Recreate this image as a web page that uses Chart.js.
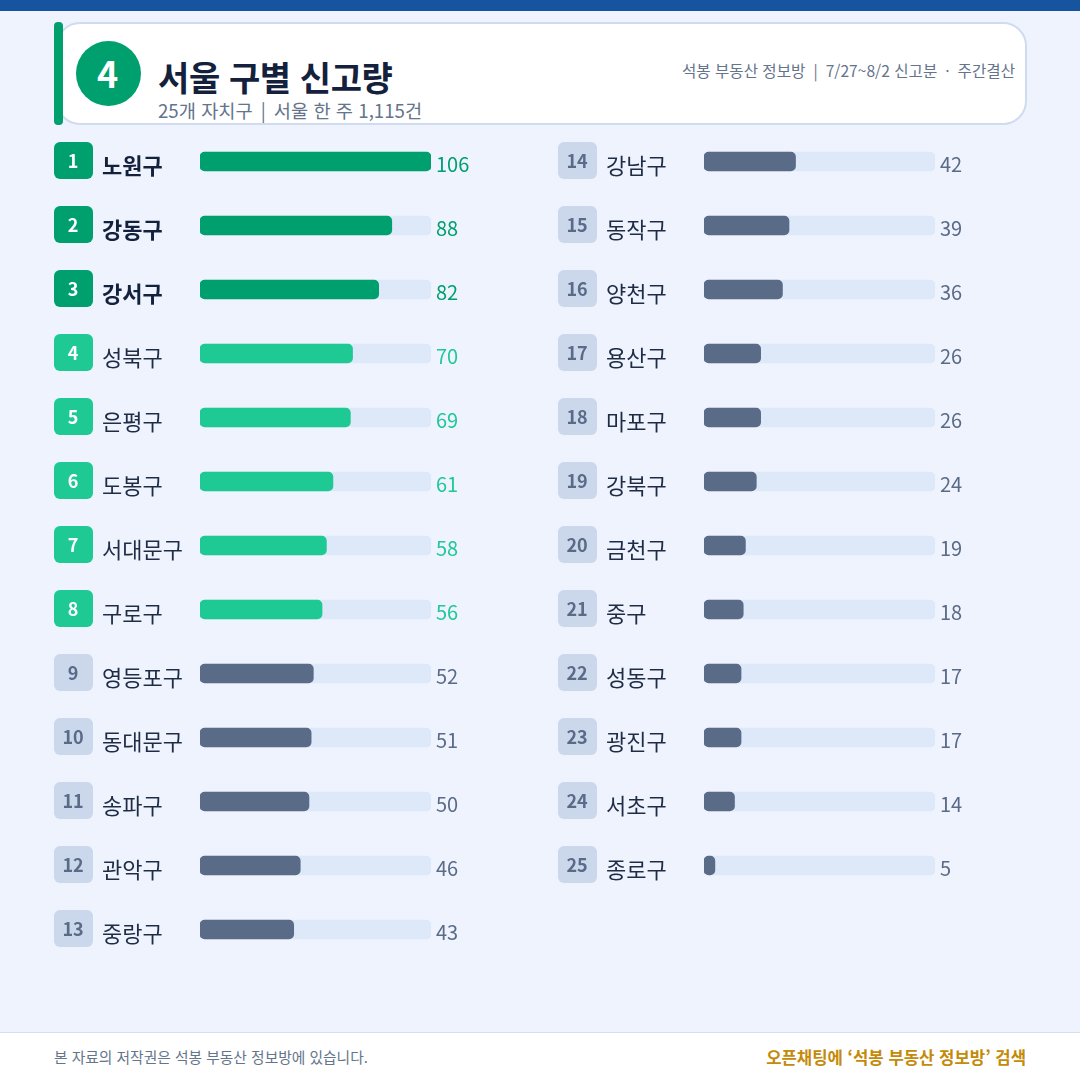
<!DOCTYPE html>
<html lang="ko">
<head>
<meta charset="utf-8">
<title>서울 구별 신고량</title>
<script src="https://cdn.jsdelivr.net/npm/chart.js@4"></script>
<style>
    html, body { margin: 0; padding: 0; }
    body { width: 1080px; height: 1080px; background: #eef3fe; position: relative; overflow: hidden; font-family: "Noto Sans CJK KR", "Noto Sans", sans-serif; }
    .abs { position: absolute; white-space: nowrap; line-height: 1; }
    .band { left: 0; top: 0; width: 1080px; height: 11px; background: #17549f; }
    .card { left: 56px; top: 22px; width: 967px; height: 99px; background: #fff; border: 2px solid #cfdbef; border-radius: 24px; }
    .strip { left: 54px; top: 22px; width: 9px; height: 103px; background: #00a06e; border-radius: 4px; }
    .circle { left: 76px; top: 41px; width: 63px; padding-right: 2px; height: 65px; line-height: 63px; border-radius: 50%; background: #00a06e; color: #fff; font-size: 36px; font-weight: 700; text-align: center; }
    .title { left: 158px; top: 60px; font-size: 34px; font-weight: 700; letter-spacing: -0.4px; color: #14213d; }
    .sub { left: 158px; top: 101px; font-size: 18.7px; color: #64748b; }
    .sub span { margin: 0 8px; }
    .note { right: 65px; top: 63px; font-size: 15.6px; color: #64748b; }
    .note span { margin: 0 8px; }
    .footer { left: 0; top: 1032px; width: 1080px; height: 48px; background: #fff; border-top: 1px solid #d5e0ee; box-sizing: border-box; }
    .copy { left: 54px; top: 1050px; font-size: 14.75px; color: #64748b; }
    .cta { right: 54px; top: 1049px; font-size: 16.7px; font-weight: 700; color: #c48a0a; }
    canvas { position: absolute; top: 129px; }
</style>
</head>
<body>
<div class="abs band"></div>
<div class="abs card"></div>
<div class="abs strip"></div>
<div class="abs circle">4</div>
<div class="abs title">서울 구별 신고량</div>
<div class="abs sub">25개 자치구<span>|</span>서울 한 주 1,115건</div>
<div class="abs note">석봉 부동산 정보방<span>|</span>7/27~8/2 신고분<span>·</span>주간결산</div>
<canvas id="leftChart" width="480" height="833" style="left:54px"></canvas>
<canvas id="rightChart" width="480" height="769" style="left:558px"></canvas>
<div class="abs footer"></div>
<div class="abs copy">본 자료의 저작권은 석봉 부동산 정보방에 있습니다.</div>
<div class="abs cta">오픈채팅에 ‘석봉 부동산 정보방’ 검색</div>
<script>
const leftDistricts = ['노원구', '강동구', '강서구', '성북구', '은평구', '도봉구', '서대문구', '구로구', '영등포구', '동대문구', '송파구', '관악구', '중랑구'];
const leftValues = [106, 88, 82, 70, 69, 61, 58, 56, 52, 51, 50, 46, 43];
const rightDistricts = ['강남구', '동작구', '양천구', '용산구', '마포구', '강북구', '금천구', '중구', '성동구', '광진구', '서초구', '종로구'];
const rightValues = [42, 39, 36, 26, 26, 24, 19, 18, 17, 17, 14, 5];
const scaleMax = 106;

const FONT = '"Noto Sans CJK KR", "Noto Sans", sans-serif';
const GREEN = '#00a06e';
const MINT = '#1ec994';
const SLATE = '#5a6b88';

function barColor(rank) {
    if (rank <= 3) return GREEN;
    if (rank <= 8) return MINT;
    return SLATE;
}

// rank badges on the left and the value next to each track
const rowDecor = {
    id: 'rowDecor',
    afterDraw(chart, args, opts) {
        const ctx = chart.ctx;
        const x = chart.scales.x;
        const y = chart.scales.y;
        chart.data.labels.forEach((name, i) => {
            const rank = opts.firstRank + i;
            const cy = y.getPixelForValue(i);
            ctx.save();
            ctx.fillStyle = rank <= 8 ? barColor(rank) : '#cbd8ec';
            ctx.beginPath();
            ctx.roundRect(0, cy - 19.5, 39, 37, 6);
            ctx.fill();
            ctx.fillStyle = rank <= 8 ? '#fff' : SLATE;
            ctx.font = '700 18px ' + FONT;
            ctx.textAlign = 'center';
            ctx.textBaseline = 'middle';
            ctx.fillText(String(rank), 19, cy - 0.5);
            ctx.fillStyle = barColor(rank);
            ctx.font = '20px ' + FONT;
            ctx.textAlign = 'left';
            ctx.fillText(String(chart.data.datasets[0].data[i]), x.getPixelForValue(scaleMax) + 5, cy + 2.5);
            ctx.restore();
        });
    }
};

function createChart(id, names, values, firstRank) {
    const ctx = document.getElementById(id).getContext('2d');
    return new Chart(ctx, {
        type: 'bar',
        data: {
            labels: names,
            datasets: [{
                data: values,
                backgroundColor: values.map((_, i) => barColor(firstRank + i)),
                borderRadius: 5,
                borderSkipped: false,
                barThickness: 19,
                grouped: false,
                order: 1
            }, {
                data: values.map(() => scaleMax),
                backgroundColor: '#dde8f9',
                borderRadius: 5,
                borderSkipped: false,
                barThickness: 19,
                grouped: false,
                order: 2
            }]
        },
        options: {
            indexAxis: 'y',
            responsive: false,
            animation: false,
            layout: { padding: { left: 48, right: 103, top: 0.5, bottom: 0.5 } },
            scales: {
                x: { display: false, min: 0, max: scaleMax },
                y: {
                    grid: { display: false },
                    border: { display: false },
                    afterFit(scale) {
                        scale.width = 98;
                        // no extra room for the first and last label, rows stay 64px apart
                        scale.paddingTop = 0;
                        scale.paddingBottom = 0;
                    },
                    ticks: {
                        crossAlign: 'far',
                        padding: 0,
                        labelOffset: 4.5,
                        autoSkip: false,
                        color: c => (firstRank + c.index <= 3 ? '#14213d' : '#1f2c45'),
                        font: c => ({ family: FONT, size: 22, weight: firstRank + c.index <= 3 ? '700' : '400' })
                    }
                }
            },
            plugins: {
                legend: { display: false },
                tooltip: { enabled: false },
                rowDecor: { firstRank: firstRank }
            }
        },
        plugins: [rowDecor]
    });
}

createChart('leftChart', leftDistricts, leftValues, 1);
createChart('rightChart', rightDistricts, rightValues, 14);
</script>
</body>
</html>
